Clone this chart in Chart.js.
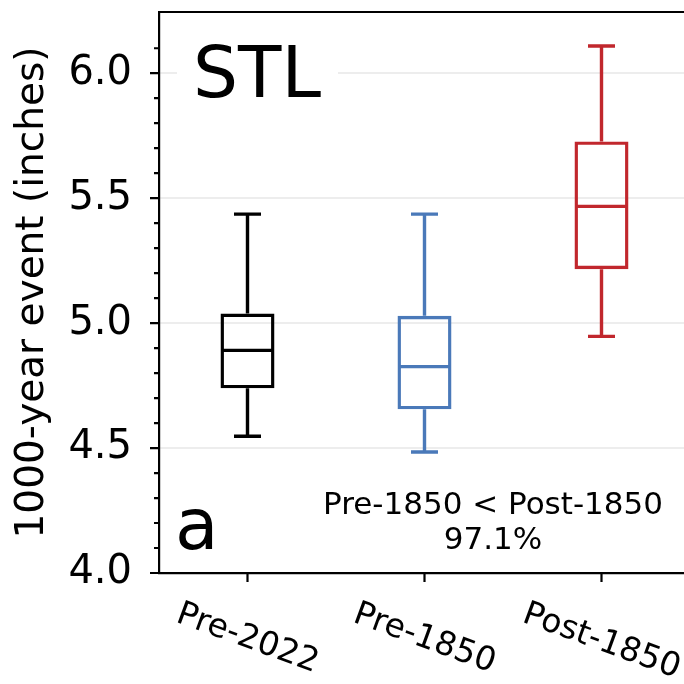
<!DOCTYPE html>
<html>
<head>
<meta charset="utf-8">
<script src="https://cdn.jsdelivr.net/npm/chart.js@4.4.0/dist/chart.umd.min.js"></script>
<style>
html, body { margin: 0; padding: 0; background: #fff; overflow: hidden; }
#wrap { width: 700px; height: 684px; }
</style>
</head>
<body>
<div id="wrap"><canvas id="myChart"></canvas></div>
<script>
// box plot values
var labels = ['Pre-2022', 'Pre-1850', 'Post-1850'];
var whiskLo = [4.547, 4.484, 4.947];
var q1 = [4.739, 4.655, 5.216];
var median = [4.891, 4.826, 5.467];
var q3 = [5.038, 5.029, 5.727];
var whiskHi = [5.436, 5.436, 6.109];
var colors = ['#000000', '#4a79b9', '#c1272d'];

var FONT = 'DejaVu Sans';
var LW = 3.4;

function isTenth(v) { return Math.abs(v * 10 - Math.round(v * 10)) < 1e-6; }
function isMajor(v) { return Math.abs(v * 2 - Math.round(v * 2)) < 1e-6; }

var boxPlugin = {
    id: 'boxes',
    afterDatasetsDraw: function(chart) {
        var c = chart.ctx, y = chart.scales.y, x = chart.scales.x, area = chart.chartArea;
        var bars = chart.getDatasetMeta(0).data;
        c.save();
        c.lineCap = 'butt';
        c.lineWidth = LW;
        for (var i = 0; i < bars.length; i++) {
            var b = bars[i], half = b.width / 2, cap = b.width / 4;
            var yHi = y.getPixelForValue(whiskHi[i]), yLo = y.getPixelForValue(whiskLo[i]);
            var yMed = y.getPixelForValue(median[i]);
            c.strokeStyle = colors[i];
            c.beginPath();
            c.moveTo(b.x, y.getPixelForValue(q3[i])); c.lineTo(b.x, yHi);
            c.moveTo(b.x, y.getPixelForValue(q1[i])); c.lineTo(b.x, yLo);
            c.moveTo(b.x - cap, yHi); c.lineTo(b.x + cap, yHi);
            c.moveTo(b.x - cap, yLo); c.lineTo(b.x + cap, yLo);
            c.moveTo(b.x - half + 1.5, yMed); c.lineTo(b.x + half - 1.5, yMed);
            c.stroke();
        }

        // tick marks
        c.strokeStyle = '#000';
        c.lineWidth = 2.2;
        c.beginPath();
        y.ticks.forEach(function(t) {
            if (!isTenth(t.value)) return;
            var py = y.getPixelForValue(t.value);
            var len = isMajor(t.value) ? 9 : 5;
            c.moveTo(area.left - len, py); c.lineTo(area.left, py);
        });
        for (var k = 0; k < labels.length; k++) {
            var px = x.getPixelForValue(k);
            c.moveTo(px, area.bottom); c.lineTo(px, area.bottom + 9);
        }
        // top frame
        c.moveTo(area.left - 1, area.top); c.lineTo(area.right, area.top);
        c.stroke();

        // rotated category labels
        var f = 33, th = 20 * Math.PI / 180;
        c.font = f + 'px "' + FONT + '"';
        c.fillStyle = '#000';
        c.textAlign = 'center';
        c.textBaseline = 'middle';
        for (var j = 0; j < labels.length; j++) {
            var w = c.measureText(labels[j]).width;
            var H = w * Math.sin(th) + f * Math.cos(th);
            var cx = x.getPixelForValue(j), cy = area.bottom + 25 + H / 2;
            c.save();
            c.translate(cx, cy);
            c.rotate(th);
            c.fillText(labels[j], 0, 0);
            c.restore();
        }

        // panel title with white box
        c.fillStyle = '#fff';
        c.fillRect(area.left + 18, area.top + 14, 161, 95);
        c.fillStyle = '#000';
        c.textAlign = 'left';
        c.textBaseline = 'alphabetic';
        c.font = '71px "' + FONT + '"';
        c.fillText('STL', area.left + 34, area.top + 85);
        c.fillText('a', area.left + 16, area.top + 537);

        c.textAlign = 'center';
        c.font = '31px "' + FONT + '"';
        c.fillText('Pre-1850 < Post-1850', area.left + 334, area.top + 502);
        c.fillText('97.1%', area.left + 334, area.top + 537);
        c.restore();
    }
};

var ctx = document.getElementById('myChart').getContext('2d');
var myChart = new Chart(ctx, {
    type: 'bar',
    data: {
        labels: labels,
        datasets: [{
            data: labels.map(function(l, i) { return [q1[i], q3[i]]; }),
            backgroundColor: 'rgba(255,255,255,0)',
            borderColor: colors,
            borderWidth: LW,
            borderSkipped: false,
            categoryPercentage: 1,
            barPercentage: 0.305
        }]
    },
    options: {
        responsive: true,
        maintainAspectRatio: false,
        animation: false,
        layout: { padding: { top: 12, right: 10, left: 0, bottom: 0 } },
        plugins: { legend: { display: false }, tooltip: { enabled: false } },
        scales: {
            x: {
                grid: { display: false, drawTicks: false },
                border: { display: true, color: '#000', width: 2.2 },
                ticks: { display: false },
                afterFit: function(s) { s.height = 111; s.paddingLeft = 0; s.paddingRight = 0; }
            },
            y: {
                min: 4.0,
                max: 6.245,
                ticks: {
                    stepSize: 0.1,
                    autoSkip: false,
                    padding: 27,
                    color: '#000',
                    font: { family: FONT, size: 40 },
                    callback: function(v) { return isTenth(v) && isMajor(v) ? v.toFixed(1) : ''; }
                },
                grid: {
                    drawTicks: false,
                    lineWidth: 2,
                    color: function(c) {
                        return (c.tick && isMajor(c.tick.value) && c.tick.value > 4.01) ? '#ededed' : 'rgba(0,0,0,0)';
                    }
                },
                border: { color: '#000', width: 2.2 },
                title: {
                    display: true,
                    text: '1000-year event (inches)',
                    color: '#000',
                    font: { family: FONT, size: 39 },
                    padding: { top: 9, bottom: 0 }
                },
                afterFit: function(s) { s.width = 159; s.paddingTop = 0; s.paddingBottom = 0; }
            }
        }
    },
    plugins: [boxPlugin]
});
</script>
</body>
</html>
